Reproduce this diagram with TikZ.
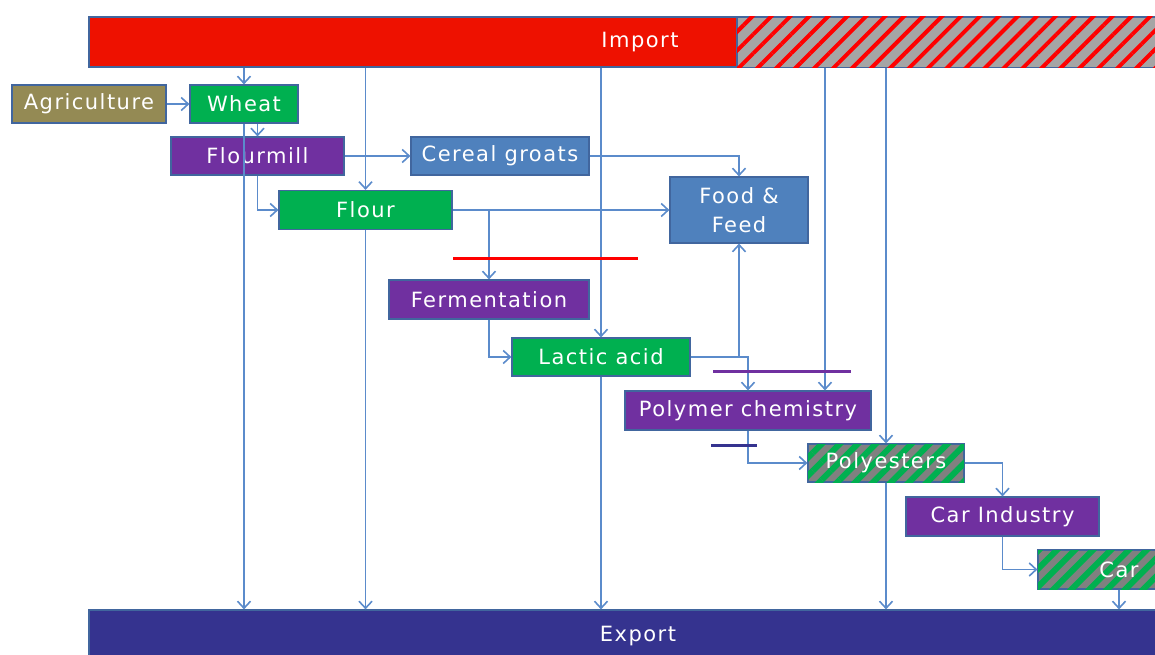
\documentclass[tikz,border=0pt]{standalone}
\usepackage{fontspec}
\setmainfont{DejaVu Sans}
\usetikzlibrary{arrows.meta,patterns.meta}

\definecolor{boxgreen}{HTML}{00B050}
\definecolor{boxpurple}{HTML}{7030A0}
\definecolor{boxblue}{HTML}{4F81BD}
\definecolor{boxolive}{HTML}{948A54}
\definecolor{importred}{HTML}{EE1100}
\definecolor{exportblue}{HTML}{35338F}
\definecolor{edgeblue}{HTML}{41669E}
\definecolor{flowblue}{HTML}{5B8BCB}
\definecolor{stripegray}{HTML}{808080}
\definecolor{lightgray}{HTML}{A5A5A5}

\tikzset{
  box/.style={draw=edgeblue, line width=1.2pt, text=white, inner sep=0pt,
    font=\fontsize{21}{24}\selectfont\addfontfeatures{LetterSpace=7}},
  greenbox/.style={box, fill=boxgreen},
  purplebox/.style={box, fill=boxpurple},
  bluebox/.style={box, fill=boxblue},
  olivebox/.style={box, fill=boxolive},
  stripedbox/.style={box, fill=stripegray,
    postaction={pattern={Lines[angle=45,distance=12.7pt,line width=6pt]}, pattern color=boxgreen}},
  redhatch/.style={draw=edgeblue, line width=1.2pt, fill=lightgray,
    postaction={pattern={Lines[angle=45,distance=13.4pt,line width=4pt]}, pattern color=red}},
  flow/.style={draw=flowblue, line width=1.8pt, -{Straight Barb[length=7pt,width=13pt,line width=1.6pt]}},
  marker/.style={line width=3pt}
}

\begin{document}
\begin{tikzpicture}[x=1pt,y=-1pt]
\useasboundingbox (0,0) rectangle (1155,655);
\begin{scope}
\clip (0,0) rectangle (1155,655);

% supply and sink bars
\node[box, fill=importred, minimum width=1102pt, minimum height=50pt] (import) at (640,42) {};
\path[redhatch] (737,17) rectangle (import.south east);
\node[text=white, font=\fontsize{21}{24}\selectfont\addfontfeatures{LetterSpace=7}] at (import.center) {Import};
\node[box, fill=exportblue, minimum width=1098pt, minimum height=52pt] (export) at (638,636) {Export};

% process chain
\node[olivebox,  minimum width=154pt, minimum height=38pt] (agri)      at (89,104)      {Agriculture};
\node[greenbox,  minimum width=108pt, minimum height=38pt] (wheat)     at (244,104)     {Wheat};
\node[purplebox, minimum width=173pt, minimum height=38pt] (flourmill) at (257.5,156)   {Flourmill};
\node[bluebox,   minimum width=178pt, minimum height=38pt] (groats)    at (500,156)     {Cereal groats};
\node[greenbox,  minimum width=173pt, minimum height=39pt] (flour)     at (365.5,210)   {Flour};
\node[bluebox,   minimum width=138pt, minimum height=66pt, align=center] (food) at (739,210) {Food \&\\[5pt]Feed};
\node[purplebox, minimum width=200pt, minimum height=39pt] (ferm)      at (489,299.5)   {Fermentation};
\node[greenbox,  minimum width=178pt, minimum height=38pt] (lactic)    at (601,357)     {Lactic acid};
\node[purplebox, minimum width=246pt, minimum height=39pt] (polymer)   at (748,410.5)   {Polymer chemistry};
\node[stripedbox,minimum width=156pt, minimum height=38pt] (polyester) at (886,463)     {Polyesters};
\node[purplebox, minimum width=193pt, minimum height=39pt] (carind)    at (1002.5,516.5){Car Industry};
\node[stripedbox,minimum width=162pt, minimum height=39pt] (car)       at (1119,569.5)  {Car};

\coordinate (polyin) at ([xshift=77pt]polymer.north);

% flows
\draw[flow] (wheat.north |- import.south) -- (wheat.north);
\draw[flow] (agri.east) -- (wheat.west);
\draw[flow] (flourmill.north |- wheat.south) -- (flourmill.north);
\draw[flow] (wheat.south) -- (wheat.south |- export.north);
\draw[flow] (flourmill.east) -- (groats.west);
\draw[flow] (flour.north |- import.south) -- (flour.north);
\draw[flow] (flour.south) -- (flour.south |- export.north);
\draw[flow] (flourmill.south) |- (flour.west);
\draw[flow] (groats.east) -| (food.north);
\draw[flow] (flour.east) -- (food.west);
\draw[flow] (flour.east -| ferm.north) -- (ferm.north);
\draw[flow] (lactic.north |- import.south) -- (lactic.north);
\draw[flow] (lactic.south) -- (lactic.south |- export.north);
\draw[flow] (ferm.south) |- (lactic.west);
\draw[flow] (lactic.east) -| (food.south);
\draw[flow] (lactic.east) -| (polymer.north);
\draw[flow] (polyin |- import.south) -- (polyin);
\draw[flow] (polyester.north |- import.south) -- (polyester.north);
\draw[flow] (polyester.south) -- (polyester.south |- export.north);
\draw[flow] (polymer.south) |- (polyester.west);
\draw[flow] (polyester.east) -| (carind.north);
\draw[flow] (carind.south) |- (car.west);
\draw[flow] (car.south) -- (car.south |- export.north);

% bars across the flows
\draw[marker, red] (453,258) -- (638,258);
\draw[marker, boxpurple] (713,371) -- (851,371);
\draw[marker, exportblue] (711,445) -- (757,445);
\end{scope}
\end{tikzpicture}
\end{document}
